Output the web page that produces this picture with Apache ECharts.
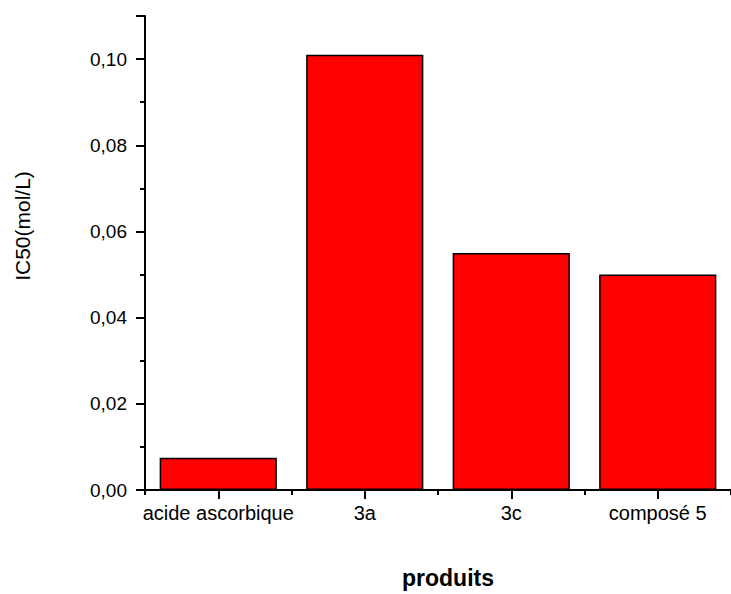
<!DOCTYPE html>
<html>
<head>
<meta charset="utf-8">
<script src="https://cdn.jsdelivr.net/npm/echarts@6/dist/echarts.min.js"></script>
<style>
html,body{margin:0;padding:0;background:#fff;}
#c{width:731px;height:594px;}
</style>
</head>
<body>
<div id="c"></div>
<script>
const categories = ['acide ascorbique', '3a', '3c', 'composé 5'];
const values = [0.0075, 0.101, 0.055, 0.050];
const yTicks = [0, 0.02, 0.04, 0.06, 0.08, 0.10];

const chart = echarts.init(document.getElementById('c'), null, {renderer: 'svg'});
const font = 'Liberation Sans, Arial, sans-serif';
chart.setOption({
  animation: false,
  backgroundColor: '#fff',
  grid: {left: 145, right: -3, top: 16, bottom: 103, containLabel: false},
  xAxis: [{
    type: 'category',
    data: categories,
    name: 'produits',
    nameLocation: 'middle',
    nameGap: 76,
    nameTextStyle: {fontFamily: font, fontSize: 23, fontWeight: 'bold', color: '#000', padding: [0, 0, 0, 20]},
    axisLine: {lineStyle: {color: '#000', width: 2}},
    axisTick: {show: true, alignWithLabel: true, length: 9, lineStyle: {color: '#000', width: 2}},
    axisLabel: {fontFamily: font, fontSize: 20, color: '#000', margin: 13, interval: 0},
    splitLine: {show: false}
  }, {
    type: 'category',
    data: categories,
    position: 'bottom',
    axisLine: {show: false},
    axisTick: {show: true, alignWithLabel: false, length: 5, lineStyle: {color: '#000', width: 2}},
    axisLabel: {show: false},
    splitLine: {show: false}
  }],
  yAxis: {
    type: 'value',
    min: 0,
    max: 0.11,
    interval: 0.02,
    name: 'IC50(mol/L)',
    nameLocation: 'middle',
    nameGap: 112,
    nameTextStyle: {fontFamily: font, fontSize: 21, color: '#000', padding: [0, 0, 0, 54]},
    axisLine: {show: true, lineStyle: {color: '#000', width: 2}},
    axisTick: {show: true, length: 9, lineStyle: {color: '#000', width: 2}},
    minorTick: {show: true, splitNumber: 2, length: 5, lineStyle: {color: '#000', width: 2}},
    axisLabel: {
      fontFamily: font, fontSize: 19, color: '#000', margin: 18,
      formatter: function (v) {
        const t = yTicks.find(x => Math.abs(x - v) < 1e-9);
        return t === undefined ? '' : t.toFixed(2).replace('.', ',');
      }
    },
    splitLine: {show: false}
  },
  series: [{
    type: 'bar',
    data: values,
    barWidth: '80%',
    itemStyle: {color: '#ff0000', borderColor: '#000', borderWidth: 1.5}
  }]
});
</script>
</body>
</html>
